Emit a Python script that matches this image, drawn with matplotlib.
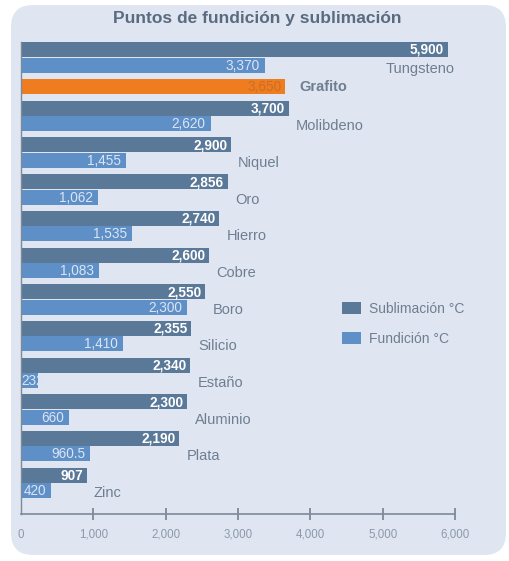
import matplotlib
matplotlib.use("Agg")
import matplotlib.pyplot as plt
from matplotlib.patches import FancyBboxPatch, Patch

# ---- data ----
elements = ["Tungsteno", "Grafito", "Molibdeno", "Niquel", "Oro", "Hierro", "Cobre",
            "Boro", "Silicio", "Estaño", "Aluminio", "Plata", "Zinc"]
sublimacion = [5900, 3650, 3700, 2900, 2856, 2740, 2600, 2550, 2355, 2340, 2300, 2190, 907]
fundicion = [3370, None, 2620, 1455, 1062, 1535, 1083, 2300, 1410, 232, 660, 960.5, 420]
sub_labels = ["5,900", "3,650", "3,700", "2,900", "2,856", "2,740", "2,600", "2,550",
              "2,355", "2,340", "2,300", "2,190", "907"]
fun_labels = ["3,370", None, "2,620", "1,455", "1,062", "1,535", "1,083", "2,300",
              "1,410", "232", "660", "960.5", "420"]
xticks = [0, 1000, 2000, 3000, 4000, 5000, 6000]
xtick_labels = ["0", "1,000", "2,000", "3,000", "4,000", "5,000", "6,000"]

C_SUB = "#5a7897"
C_FUN = "#5f8fc7"
C_ORANGE = "#f07c20"
C_PANEL = "#dfe6f1"
C_TEXT = "#6e7e91"
C_TITLE = "#5a6b80"

W, H = 509, 561
fig = plt.figure(figsize=(W / 100, H / 100), dpi=100)
fig.patch.set_facecolor("white")

# background panel
bg = fig.add_axes([0, 0, 1, 1], zorder=-1)
bg.set_xlim(0, W)
bg.set_ylim(H, 0)
bg.axis("off")
bg.add_patch(FancyBboxPatch((11, 5), 495, 550, boxstyle="round,pad=0,rounding_size=22",
                            facecolor=C_PANEL, edgecolor="none"))

fam = "Liberation Sans"
fig.text(257 / W, 1 - 19 / H, "Puntos de fundición y sublimación", ha="center", va="center",
         fontsize=12.5, fontweight="bold", color=C_TITLE, family=fam)

# main axes: 0 at x=21px, 6000 at x=455px; y in pixels from 42 to 514
ax = fig.add_axes([21 / W, 1 - 514 / H, 434 / W, 472 / H])
ax.set_xlim(0, 6000)
ax.set_ylim(472, 0)
ax.patch.set_alpha(0)

bh = 15.0
y = 0.0
VFS = 9.8
NFS = 10.5
for i, name in enumerate(elements):
    s = sublimacion[i]
    f = fundicion[i]
    if f is None:
        ax.barh(y, s, height=bh, align="edge", color=C_ORANGE, zorder=2)
        ax.text(s - 40, y + bh / 2 + 0.5, sub_labels[i], ha="right", va="center",
                fontsize=VFS, color="#c96f2a", family=fam, zorder=3)
        ax.text(s + 200, y + bh / 2 + 0.5, name, ha="left", va="center",
                fontsize=NFS, fontweight="bold", color=C_TEXT, family=fam, zorder=3)
        y += 22.0
    else:
        ax.barh(y, s, height=bh, align="edge", color=C_SUB, zorder=2)
        ax.barh(y + 15.5, f, height=bh, align="edge", color=C_FUN, zorder=2)
        ax.text(s - 50, y + bh / 2 + 0.5, sub_labels[i], ha="right", va="center",
                fontsize=VFS, fontweight="bold", color="white", family=fam, zorder=3)
        if f < 300:
            ax.text(0, y + 15.5 + bh / 2 + 0.5, fun_labels[i], ha="left", va="center",
                    fontsize=VFS, color="#dae5f4", family=fam, zorder=3)
        else:
            ax.text(f - 70, y + 15.5 + bh / 2 + 0.5, fun_labels[i], ha="right", va="center",
                    fontsize=VFS, color="#dae5f4", family=fam, zorder=3)
        if s == max(sublimacion):
            ax.text(s + 100, y + 15.5 + bh / 2 + 3.5, name, ha="right", va="center",
                    fontsize=NFS, color=C_TEXT, family=fam, zorder=3)
        else:
            ax.text(s + 100, y + 15.5 + bh / 2 + 2.5, name, ha="left", va="center",
                    fontsize=NFS, color=C_TEXT, family=fam, zorder=3)
        y += 36.7

for sp in ["top", "right"]:
    ax.spines[sp].set_visible(False)
ax.spines["left"].set_color("#7d8a99")
ax.spines["bottom"].set_color("#7d8a99")
ax.spines["left"].set_linewidth(1.0)
ax.spines["bottom"].set_linewidth(1.2)
ax.set_yticks([])
ax.set_xticks(xticks)
ax.set_xticklabels(xtick_labels, family=fam, fontsize=8.3, color="#8c99ab")
ax.tick_params(axis="x", direction="inout", length=9, width=1.3, color="#7d8a99", pad=6)
ax.xaxis.get_major_ticks()[0].tick1line.set_visible(False)

handles = [Patch(facecolor=C_SUB, edgecolor="none"), Patch(facecolor=C_FUN, edgecolor="none")]
leg = fig.legend(handles, ["Sublimación °C", "Fundición °C"], loc="upper left",
                 bbox_to_anchor=(342 / W, 1 - 302 / H), frameon=False,
                 prop={"family": fam, "size": 10}, handlelength=1.35, handleheight=0.95,
                 handletextpad=0.6, labelspacing=1.15, borderpad=0, borderaxespad=0)
for t in leg.get_texts():
    t.set_color(C_TEXT)

fig.savefig("out.png", dpi=100)
